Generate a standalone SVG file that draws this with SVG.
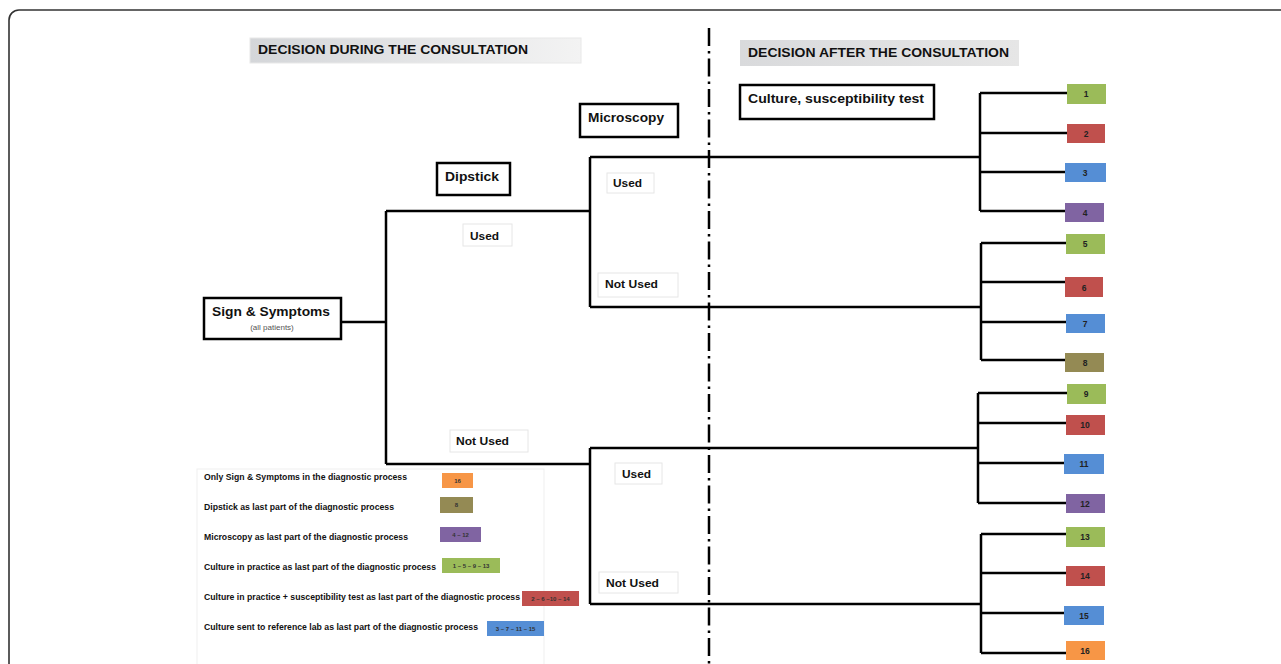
<svg xmlns="http://www.w3.org/2000/svg" width="1281" height="664" viewBox="0 0 1281 664">
<defs>
<linearGradient id="hg" x1="0" y1="0" x2="1" y2="0">
<stop offset="0" stop-color="#d4d6d9"/>
<stop offset="1" stop-color="#f3f3f3"/>
</linearGradient>
<linearGradient id="hg2" x1="0" y1="0" x2="1" y2="0">
<stop offset="0" stop-color="#d9dadc"/>
<stop offset="1" stop-color="#e6e6e6"/>
</linearGradient>
<style>
text{font-family:"Liberation Sans",Arial,sans-serif;font-weight:bold;fill:#111}
.hdr{font-size:12.5px}
.node{fill:#fff;stroke:#000;stroke-width:2.5}
.nt{font-size:13px}
.lbl{fill:#fff;stroke:#e6e6e6;stroke-width:1}
.lt{font-size:10.5px}
.con{fill:none;stroke:#000;stroke-width:2.5}
.leaf text{font-size:8.5px;font-weight:bold;text-anchor:middle;fill:#222}
.leg{font-size:8.3px}
.legb{font-size:6px;font-weight:bold;text-anchor:middle;fill:#333}
.g{fill:#9bbb59}.r{fill:#c0504d}.b{fill:#558ed5}.p{fill:#8064a2}.o{fill:#948a54}.or{fill:#f79646}
</style>
</defs>
<rect x="0" y="0" width="1281" height="664" fill="#fff"/>
<rect x="9" y="10" width="1300" height="700" rx="10" fill="none" stroke="#333" stroke-width="1.6"/>

<g id="header-during">
<rect x="250" y="38" width="331" height="25" fill="url(#hg)" stroke="#e8e8e8"/>
<text class="hdr" x="258" y="54" textLength="270" lengthAdjust="spacingAndGlyphs">DECISION DURING THE CONSULTATION</text>
</g>
<g id="header-after">
<rect x="740" y="40" width="279" height="26" fill="url(#hg2)"/>
<text class="hdr" x="748" y="57" textLength="261" lengthAdjust="spacingAndGlyphs">DECISION AFTER THE CONSULTATION</text>
</g>

<g id="connectors">
<line x1="709" y1="28" x2="709" y2="664" stroke="#000" stroke-width="2.5" stroke-dasharray="18 5 2.5 5"/>
<path class="con" d="M341,322 H386 M386,211 V464 M386,211 H590 M386,464 H590"/>
<path class="con" d="M590,157 V307 M590,157 H980 M590,307 H981"/>
<path class="con" d="M590,448 V604 M590,448 H978 M590,604 H981"/>
<path class="con" d="M980,93 V211 M980,93 H1067 M980,133 H1067 M980,172 H1065 M980,211 H1065"/>
<path class="con" d="M981,243 V360 M981,243 H1066 M981,282 H1065 M981,322 H1066 M981,360 H1065"/>
<path class="con" d="M978,393 V503 M978,393 H1067 M978,423 H1066 M978,463 H1064 M978,503 H1066"/>
<path class="con" d="M981,534 V653 M981,534 H1067 M981,573 H1067 M981,613 H1064 M981,653 H1066"/>
</g>

<g id="node-culture">
<rect class="node" x="740" y="85" width="194" height="34"/>
<text class="nt" x="748" y="103" textLength="176" lengthAdjust="spacingAndGlyphs">Culture, susceptibility test</text>
</g>
<g id="node-microscopy">
<rect class="node" x="580" y="104" width="98" height="33"/>
<text class="nt" x="588" y="122" textLength="76" lengthAdjust="spacingAndGlyphs">Microscopy</text>
</g>
<g id="node-dipstick">
<rect class="node" x="437" y="163" width="73" height="32"/>
<text class="nt" x="445" y="181" textLength="54" lengthAdjust="spacingAndGlyphs">Dipstick</text>
</g>
<g id="node-sign">
<rect class="node" x="204" y="298" width="137" height="41"/>
<text class="nt" x="271" y="316" text-anchor="middle" textLength="118" lengthAdjust="spacingAndGlyphs">Sign &amp; Symptoms</text>
<text x="272" y="330" text-anchor="middle" style="font-size:8px;font-weight:normal;fill:#555">(all patients)</text>
</g>

<g id="label-used-1">
<rect class="lbl" x="463" y="224" width="49" height="22"/>
<text class="lt" x="470" y="240" textLength="29" lengthAdjust="spacingAndGlyphs">Used</text>
</g>
<g id="label-notused-1">
<rect class="lbl" x="450" y="430" width="78" height="22"/>
<text class="lt" x="456" y="445" textLength="53" lengthAdjust="spacingAndGlyphs">Not Used</text>
</g>
<g id="label-used-2">
<rect class="lbl" x="607" y="173" width="47" height="20"/>
<text class="lt" x="613" y="187" textLength="29" lengthAdjust="spacingAndGlyphs">Used</text>
</g>
<g id="label-notused-2">
<rect class="lbl" x="598" y="273" width="80" height="24"/>
<text class="lt" x="605" y="288" textLength="53" lengthAdjust="spacingAndGlyphs">Not Used</text>
</g>
<g id="label-used-3">
<rect class="lbl" x="615" y="463" width="47" height="21"/>
<text class="lt" x="622" y="478" textLength="29" lengthAdjust="spacingAndGlyphs">Used</text>
</g>
<g id="label-notused-3">
<rect class="lbl" x="599" y="572" width="79" height="21"/>
<text class="lt" x="606" y="587" textLength="53" lengthAdjust="spacingAndGlyphs">Not Used</text>
</g>

<g id="leaf-1" class="leaf"><rect class="g" x="1067" y="84" width="39" height="20"/><text x="1086" y="97">1</text></g>
<g id="leaf-2" class="leaf"><rect class="r" x="1067" y="124" width="38" height="19"/><text x="1086" y="137">2</text></g>
<g id="leaf-3" class="leaf"><rect class="b" x="1065" y="163" width="41" height="19"/><text x="1085" y="176">3</text></g>
<g id="leaf-4" class="leaf"><rect class="p" x="1065" y="203" width="39" height="19"/><text x="1085" y="216">4</text></g>
<g id="leaf-5" class="leaf"><rect class="g" x="1066" y="234" width="39" height="20"/><text x="1085" y="247">5</text></g>
<g id="leaf-6" class="leaf"><rect class="r" x="1065" y="277" width="38" height="20"/><text x="1084" y="291">6</text></g>
<g id="leaf-7" class="leaf"><rect class="b" x="1066" y="314" width="39" height="19"/><text x="1085" y="327">7</text></g>
<g id="leaf-8" class="leaf"><rect class="o" x="1065" y="353" width="39" height="19"/><text x="1085" y="366">8</text></g>
<g id="leaf-9" class="leaf"><rect class="g" x="1067" y="384" width="39" height="20"/><text x="1086" y="397">9</text></g>
<g id="leaf-10" class="leaf"><rect class="r" x="1066" y="415" width="39" height="20"/><text x="1085" y="428">10</text></g>
<g id="leaf-11" class="leaf"><rect class="b" x="1064" y="454" width="40" height="20"/><text x="1084" y="467">11</text></g>
<g id="leaf-12" class="leaf"><rect class="p" x="1066" y="494" width="39" height="19"/><text x="1085" y="507">12</text></g>
<g id="leaf-13" class="leaf"><rect class="g" x="1066" y="527" width="39" height="20"/><text x="1085" y="540">13</text></g>
<g id="leaf-14" class="leaf"><rect class="r" x="1066" y="566" width="39" height="20"/><text x="1085" y="579">14</text></g>
<g id="leaf-15" class="leaf"><rect class="b" x="1064" y="606" width="40" height="19"/><text x="1084" y="619">15</text></g>
<g id="leaf-16" class="leaf"><rect class="or" x="1066" y="641" width="39" height="19"/><text x="1085" y="654">16</text></g>

<g id="legend">
<rect x="197" y="469" width="347" height="220" fill="#fff" stroke="#efefef"/>
<text class="leg" x="204" y="480" textLength="203" lengthAdjust="spacingAndGlyphs">Only Sign &amp; Symptoms in the diagnostic process</text>
<rect class="or" x="442" y="473" width="31" height="15"/><text class="legb" x="457.5" y="483">16</text>
<text class="leg" x="204" y="510" textLength="190" lengthAdjust="spacingAndGlyphs">Dipstick as last part of the diagnostic process</text>
<rect class="o" x="440" y="497" width="33" height="16"/><text class="legb" x="456.5" y="507">8</text>
<text class="leg" x="204" y="540" textLength="204" lengthAdjust="spacingAndGlyphs">Microscopy as last part of the diagnostic process</text>
<rect class="p" x="440" y="527" width="41" height="15"/><text class="legb" x="460.5" y="537">4 – 12</text>
<text class="leg" x="204" y="570" textLength="232" lengthAdjust="spacingAndGlyphs">Culture in practice as last part of the diagnostic process</text>
<rect class="g" x="442" y="558" width="58" height="15"/><text class="legb" x="471" y="568">1 – 5 – 9 – 13</text>
<text class="leg" x="204" y="600" textLength="316" lengthAdjust="spacingAndGlyphs">Culture in practice + susceptibility test as last part of the diagnostic process</text>
<rect class="r" x="522" y="591" width="57" height="15"/><text class="legb" x="550.5" y="601">2 – 6 –10 – 14</text>
<text class="leg" x="204" y="630" textLength="274" lengthAdjust="spacingAndGlyphs">Culture sent to reference lab as last part of the diagnostic process</text>
<rect class="b" x="487" y="621" width="57" height="15"/><text class="legb" x="515.5" y="631">3 – 7 – 11 – 15</text>
</g>
</svg>
